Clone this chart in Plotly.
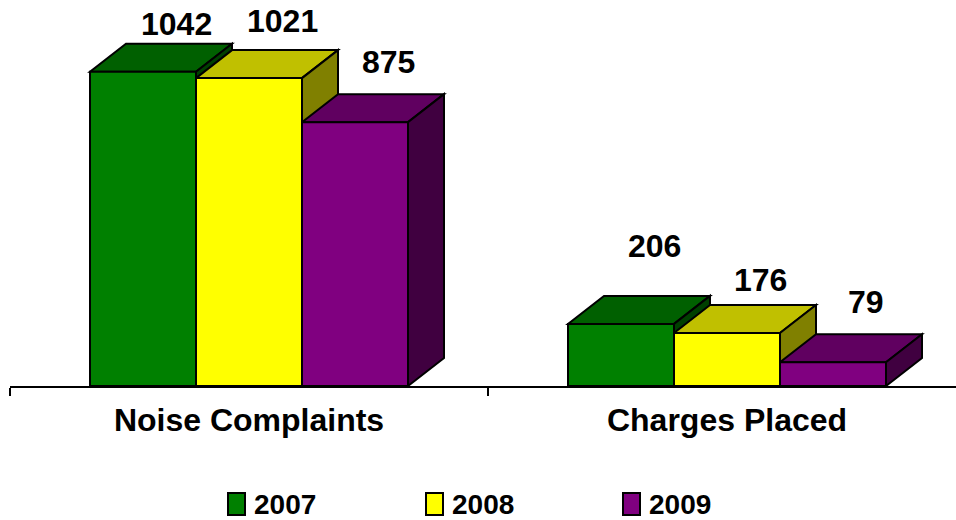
import plotly.graph_objects as go

categories = ["Noise Complaints", "Charges Placed"]
years = ["2007", "2008", "2009"]
v2007 = [1042, 206]
v2008 = [1021, 176]
v2009 = [875, 79]

series = [v2007, v2008, v2009]
front_colors = ["#008000", "#FFFF00", "#800080"]
top_colors = ["#006000", "#C0C000", "#600060"]
side_colors = ["#004000", "#808000", "#400040"]
# extra pixel lift of each value label above its bar's back edge (style)
label_gap_px = [[8, 38], [17, 13], [20, 20]]

W, H = 956, 520
ML, MR, MT, MB = 10, 0, 0, 134
plot_w = W - ML - MR
plot_h = H - MT - MB
px_per_x = 478.0               # pixels per category unit
x0r = -0.5
x1r = x0r + plot_w / px_per_x
ymax = 1280.0
px_per_y = plot_h / ymax

bar_w = 106 / px_per_x
depth_dx = 36 / px_per_x
depth_dy = 28 / px_per_y
label_dx = 33 / px_per_x

xs = list(range(len(categories)))
fig = go.Figure()
shapes = []
annotations = []
for i, (yr, vals) in enumerate(zip(years, series)):
    off = (i - 1.5) * bar_w
    fig.add_trace(go.Bar(
        x=xs, y=vals, name=yr, width=bar_w, offset=off,
        marker=dict(color=front_colors[i], line=dict(color="black", width=2)),
        showlegend=False, hoverinfo="x+y+name",
    ))

# 3-D tops and sides, drawn in series order beneath the front faces
for c in xs:
    for i, vals in enumerate(series):
        v = vals[c]
        xl = c + (i - 1.5) * bar_w
        xr = xl + bar_w
        top = (f"M {xl} {v} L {xr} {v} L {xr + depth_dx} {v + depth_dy} "
               f"L {xl + depth_dx} {v + depth_dy} Z")
        side = (f"M {xr} 0 L {xr} {v} L {xr + depth_dx} {v + depth_dy} "
                f"L {xr + depth_dx} {depth_dy} Z")
        shapes.append(dict(type="path", path=top, xref="x", yref="y",
                           fillcolor=top_colors[i], layer="below",
                           line=dict(color="black", width=2)))
        shapes.append(dict(type="path", path=side, xref="x", yref="y",
                           fillcolor=side_colors[i], layer="below",
                           line=dict(color="black", width=2)))
        annotations.append(dict(
            x=xl + bar_w / 2 + label_dx, y=v + depth_dy, xref="x", yref="y",
            text=str(v), showarrow=False, yanchor="bottom",
            yshift=label_gap_px[i][c] - 8,
            font=dict(family="Liberation Sans", size=32, color="black", weight="bold"),
        ))

# custom legend
leg_x_px = [228, 426, 623]
leg_y_px = 504
for i, yr in enumerate(years):
    px = leg_x_px[i]
    shapes.append(dict(type="rect", xref="paper", yref="paper",
                       x0=(px - ML) / plot_w, x1=(px + 17 - ML) / plot_w,
                       y0=(MT + plot_h - (leg_y_px + 11)) / plot_h,
                       y1=(MT + plot_h - (leg_y_px - 11)) / plot_h,
                       fillcolor=front_colors[i], line=dict(color="black", width=2)))
    annotations.append(dict(
        x=(px + 24 - ML) / plot_w, y=(MT + plot_h - leg_y_px) / plot_h,
        xref="paper", yref="paper", xanchor="left", yanchor="middle",
        text=yr, showarrow=False,
        font=dict(family="Liberation Sans", size=28, color="black", weight="bold"),
    ))

fig.update_layout(
    width=W, height=H,
    margin=dict(l=ML, r=MR, t=MT, b=MB),
    paper_bgcolor="white", plot_bgcolor="white",
    barmode="overlay",
    shapes=shapes, annotations=annotations,
    showlegend=False,
    xaxis=dict(
        range=[x0r, x1r], tickmode="array", tickvals=xs, ticktext=categories,
        showline=True, linecolor="black", linewidth=1.5, ticks="",
        showgrid=False, zeroline=False, ticklabelstandoff=5,
        tickfont=dict(family="Liberation Sans", size=32, color="black", weight="bold"),
        minor=dict(tickmode="array", tickvals=[-0.5, 0.5, 1.5], ticks="outside",
                   ticklen=8, tickwidth=1.5, tickcolor="black", showgrid=False),
    ),
    yaxis=dict(range=[0, ymax], visible=False, showgrid=False, zeroline=False),
)

fig.write_html("out.html", config={"displayModeBar": False},
               post_script="document.body.style.margin='0';")
